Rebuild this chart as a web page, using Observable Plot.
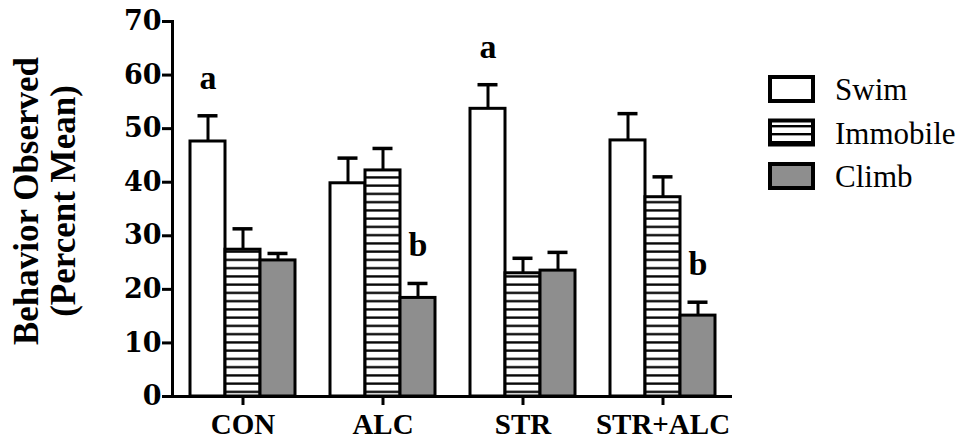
<!DOCTYPE html>
<html><head><meta charset="utf-8">
<script src="https://cdn.jsdelivr.net/npm/d3@7"></script>
<script src="https://cdn.jsdelivr.net/npm/@observablehq/plot@0.6"></script>
<style>
body{margin:0;background:#fff;}
#wrap{position:relative;width:970px;height:440px;}
#legend{position:absolute;left:0;top:0;}
#legend text{font-family:"Liberation Serif","Times New Roman",serif;font-size:31px;fill:#000;}
</style></head><body>
<svg width="0" height="0" style="position:absolute">
<defs>
<pattern id="hstripes" patternUnits="userSpaceOnUse" width="12" height="8.25">
<rect width="12" height="8.25" fill="white"/><rect y="3" width="12" height="2.3" fill="black"/>
</pattern>
<pattern id="lstripes" patternUnits="userSpaceOnUse" width="12" height="8">
<rect width="12" height="8" fill="white"/><rect y="5" width="12" height="2.4" fill="black"/>
</pattern>
</defs></svg>
<div id="wrap"></div>
<script>
const groups = ["CON", "ALC", "STR", "STR+ALC"];
const series = ["Swim", "Immobile", "Climb"];
const swim = [47.6, 39.8, 53.7, 47.8];
const swimErr = [4.8, 4.7, 4.5, 5.0];
const immobile = [27.4, 42.2, 23.0, 37.2];
const immobileErr = [3.9, 4.1, 2.8, 3.8];
const climb = [25.4, 18.4, 23.5, 15.1];
const climbErr = [1.3, 2.7, 3.4, 2.5];
const yTicks = [0, 10, 20, 30, 40, 50, 60, 70];
const letterGroups = ["CON", "ALC", "STR", "STR+ALC"];
const letterSeries = ["Swim", "Climb", "Swim", "Climb"];
const letterText = ["a", "b", "a", "b"];
const yLabel = ["Behavior Observed", "(Percent Mean)"];

const seriesValues = [swim, immobile, climb];
const seriesErrs = [swimErr, immobileErr, climbErr];
const seriesFills = ["white", "url(#hstripes)", "#8e8e8e"];

const rows = [];
series.forEach((s, si) => groups.forEach((g, gi) =>
  rows.push({group: g, series: s, value: seriesValues[si][gi], err: seriesErrs[si][gi]})));
const letters = letterGroups.map((g, i) => {
  const r = rows.find(d => d.group === g && d.series === letterSeries[i]);
  return {group: g, series: letterSeries[i], text: letterText[i], top: r.value + r.err};
});

const W = 970, H = 440, mL = 172, mR = 238, mT = 21, mB = 44;
const padIn = 0.25, padOut = 0.125;
const step = (W - mL - mR) / (groups.length - padIn + 2 * padOut);
const bandwidth = step * (1 - padIn);
const barW = bandwidth / 3;
const capW = 20;
const serif = "Liberation Serif, Times New Roman, serif";

const marks = [];
series.forEach((s, si) => {
  const data = rows.filter(d => d.series === s);
  const dx = (si - 1) * barW;
  marks.push(Plot.barY(data, {x: "group", y: "value", dx, insetLeft: barW, insetRight: barW,
    fill: seriesFills[si], stroke: "black", strokeWidth: 3}));
  marks.push(Plot.ruleX(data, {x: "group", y1: "value", y2: d => d.value + d.err, dx,
    stroke: "black", strokeWidth: 3}));
  marks.push(Plot.tickY(data, {x: "group", y: d => d.value + d.err, dx,
    insetLeft: (bandwidth - capW) / 2, insetRight: (bandwidth - capW) / 2,
    stroke: "black", strokeWidth: 3.5}));
  const ls = letters.filter(d => d.series === s);
  if (ls.length) marks.push(Plot.text(ls, {x: "group", y: "top", text: "text", dx, dy: -27,
    lineAnchor: "bottom", fontSize: 34, fontWeight: "bold", fontFamily: serif, fill: "black"}));
});
marks.push(Plot.ruleY([0], {stroke: "black", strokeWidth: 3}));
marks.push(Plot.frame({anchor: "left", stroke: "black", strokeWidth: 3}));
marks.push(Plot.axisY({ticks: yTicks, tickFormat: d => String(d), tickSize: 10, tickPadding: 1,
  strokeWidth: 3, fontSize: 27, fontWeight: "bold", fontFamily: "DejaVu Serif, serif", label: null}));
marks.push(Plot.axisX({tickSize: 9, tickPadding: 8, strokeWidth: 3, fontSize: 29,
  fontWeight: "bold", fontFamily: serif, label: null}));
marks.push(Plot.text([yLabel[0]], {text: d => d, frameAnchor: "left", rotate: -90, dx: -146, dy: -8,
  fontSize: 35, fontWeight: "bold", fontFamily: serif, textAnchor: "middle", lineAnchor: "middle"}));
marks.push(Plot.text([yLabel[1]], {text: d => d, frameAnchor: "left", rotate: -90, dx: -109, dy: -8,
  fontSize: 35, fontWeight: "bold", fontFamily: serif, textAnchor: "middle", lineAnchor: "middle"}));

const chart = Plot.plot({
  width: W, height: H, marginLeft: mL, marginRight: mR, marginTop: mT, marginBottom: mB,
  style: {background: "white", color: "black", overflow: "visible"},
  x: {domain: groups, paddingInner: padIn, paddingOuter: padOut, axis: null},
  y: {domain: [0, 70], axis: null},
  marks
});
const wrap = document.getElementById("wrap");
wrap.appendChild(chart);

// legend
const ns = "http://www.w3.org/2000/svg";
const leg = document.createElementNS(ns, "svg");
leg.setAttribute("id", "legend");
leg.setAttribute("width", W); leg.setAttribute("height", H);
const legFills = ["white", "url(#lstripes)", "#8e8e8e"];
series.forEach((s, i) => {
  const top = 77 + i * 43.5;
  const r = document.createElementNS(ns, "rect");
  r.setAttribute("x", 770); r.setAttribute("y", top); r.setAttribute("width", 43); r.setAttribute("height", 24);
  r.setAttribute("fill", legFills[i]); r.setAttribute("stroke", "black"); r.setAttribute("stroke-width", 4);
  leg.appendChild(r);
  const t = document.createElementNS(ns, "text");
  t.setAttribute("x", 835); t.setAttribute("y", top + 23);
  t.textContent = s;
  leg.appendChild(t);
});
wrap.appendChild(leg);
</script>
</body></html>
